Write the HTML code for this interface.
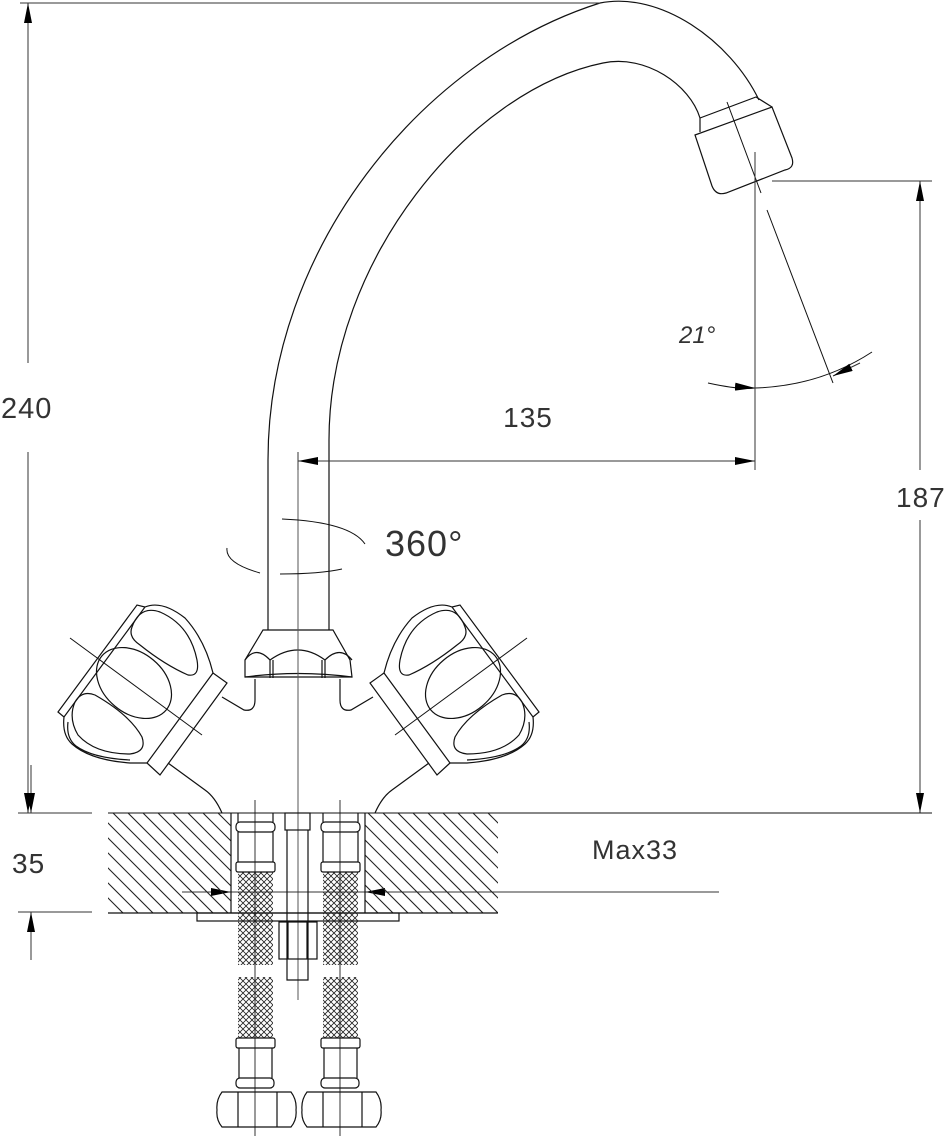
<!DOCTYPE html>
<html><head><meta charset="utf-8"><style>
html,body{margin:0;padding:0;background:#fff;}
svg{display:block;}
text{font-family:"Liberation Sans",sans-serif;fill:#333;font-weight:normal;}
</style></head><body>
<svg width="952" height="1136" viewBox="0 0 952 1136" xmlns="http://www.w3.org/2000/svg">
<defs>
<clipPath id="cb"><rect x="108" y="813" width="123" height="100"/><rect x="365" y="813" width="133" height="100"/></clipPath>
<pattern id="braid" width="6" height="6" patternUnits="userSpaceOnUse">
<path d="M0,0 L6,6 M6,0 L0,6" stroke="#222" stroke-width="0.8"/>
</pattern>
<marker id="ar" viewBox="0 0 20 8" refX="20" refY="4" markerWidth="20" markerHeight="8" markerUnits="userSpaceOnUse" orient="auto">
<path d="M0,0 L20,4 L0,8 Z" fill="#000"/>
</marker>
</defs>
<g fill="none" stroke="#111" stroke-width="1.2">
<!-- spout -->
<path d="M268,615 L268,460 C268,250 420,60 600,3 C660,-9 730,40 759,100"/>
<path d="M329,615 L329,440 C329,260 470,90 603,63 C646,54 690,85 700,118"/>
<path d="M700,118 L700,132 M700,118 L756,97 L772,107"/>
<path d="M695,135 L772,107 L792,158 Q795,168 785,170 L726,193 Q716,196 712,186 Z"/>
<!-- hex nut -->
<path d="M268,615 L268,630 M329,615 L329,630"/>
<path d="M263,630 L333,630 L350,660 L352,677 L245,677 L245,660 Z"/>
<path d="M245,660 Q256,645 270,660 Q298,640 325,660 Q340,645 352,660"/>
<path d="M270,660 L270,678 M273,660 L273,678 M325,660 L325,678 M322,660 L322,678"/>
<path d="M245,677 Q298,670 352,677"/>
<path d="M255,679 L255,700 Q255,712 244,710 L222,697"/>
<path d="M340,679 L340,700 Q340,712 351,710 L373,697"/>
<!-- handles -->
<g id="hl">
<path d="M58,712 L137,605 L145,607 L64,717 Z"/>
<path d="M145,607 Q162,600 185,618 Q205,640 213,673"/>
<path d="M64,717 Q62,735 72,744 Q90,760 130,763 L147,763"/>
<path d="M68,722 Q66,738 76,746 Q92,758 130,760"/>
<path d="M213,673 L227,683 L160,775 L147,763 Z"/>
<path d="M132,627 Q140,605 160,612 Q190,625 197,660 Q200,677 188,675 Q165,665 140,645 Q128,637 132,627 Z"/>
<ellipse cx="134" cy="683" rx="42" ry="30" transform="rotate(40 134 683)"/>
<path d="M75,702 Q82,690 95,695 Q130,715 142,737 Q147,752 130,754 Q95,754 78,735 Q68,718 75,702 Z"/>
<path d="M70,638 L202,735" stroke-width="1"/>
<path d="M168,763 L205,790 Q215,797 222,813"/>
</g>
<use href="#hl" transform="translate(597,0) scale(-1,1)"/>
<!-- centerlines -->
<path d="M298,452 L298,1000" stroke="#555" stroke-width="1"/>
<path d="M255,800 L255,1136 M340,800 L340,1136" stroke="#333" stroke-width="1"/>
<!-- 360 arcs -->
<path d="M282,519 Q350,522 365,544" stroke-width="1"/>
<path d="M227,548 Q225,563 260,573" stroke-width="1"/>
<path d="M280,574 Q320,574 342,569" stroke-width="1"/>
<!-- spout axis & 21 deg -->
<path d="M727,102 L761,193 M767,210 L833,383" stroke-width="1"/>
<path d="M708,383 Q740,390 755,388 Q820,386 872,352" stroke-width="1"/>
<path d="M755,152 L755,470" stroke="#333" stroke-width="1"/>
</g>
<!-- arrows -->
<g stroke="#333" stroke-width="1" fill="none">
<line x1="740" y1="387" x2="755" y2="388" marker-end="url(#ar)"/>
<line x1="860" y1="363" x2="833" y2="376" marker-end="url(#ar)"/>
<line x1="330" y1="461" x2="755" y2="461" marker-end="url(#ar)"/>
<line x1="340" y1="461" x2="298" y2="461" marker-end="url(#ar)"/>
<line x1="298" y1="452" x2="298" y2="470"/>
<line x1="772" y1="181" x2="932" y2="181"/>
<line x1="920" y1="470" x2="920" y2="181" marker-end="url(#ar)"/>
<line x1="920" y1="520" x2="920" y2="813" marker-end="url(#ar)"/>
<line x1="20" y1="3" x2="600" y2="3"/>
<line x1="28" y1="363" x2="28" y2="3" marker-end="url(#ar)"/>
<line x1="28" y1="452" x2="28" y2="813" marker-end="url(#ar)"/>
<line x1="31" y1="765" x2="31" y2="813" marker-end="url(#ar)"/>
<line x1="31" y1="960" x2="31" y2="912" marker-end="url(#ar)"/>
<line x1="18" y1="813" x2="92" y2="813"/>
<line x1="18" y1="912" x2="92" y2="912"/>
<line x1="108" y1="813" x2="932" y2="813" stroke="#111"/>
<line x1="182" y1="892" x2="719" y2="892"/>
<line x1="200" y1="892" x2="231" y2="892" marker-end="url(#ar)"/>
<line x1="400" y1="892" x2="365" y2="892" marker-end="url(#ar)"/>
</g>
<!-- counter hatch -->
<path clip-path="url(#cb)" fill="none" stroke="#222" stroke-width="1.1" d="M8,813 l100,100 M23,813 l100,100 M38,813 l100,100 M53,813 l100,100 M68,813 l100,100 M83,813 l100,100 M98,813 l100,100 M113,813 l100,100 M128,813 l100,100 M143,813 l100,100 M158,813 l100,100 M173,813 l100,100 M188,813 l100,100 M203,813 l100,100 M218,813 l100,100 M263,813 l100,100 M278,813 l100,100 M293,813 l100,100 M308,813 l100,100 M323,813 l100,100 M338,813 l100,100 M353,813 l100,100 M368,813 l100,100 M383,813 l100,100 M398,813 l100,100 M413,813 l100,100 M428,813 l100,100 M443,813 l100,100 M458,813 l100,100 M473,813 l100,100 M488,813 l100,100"/>
<g fill="none" stroke="#111" stroke-width="1.2">
<path d="M231,813 L231,913 M365,813 L365,913 M108,913 L498,913"/>
<rect x="197" y="913" width="202" height="8"/>
<!-- center rod -->
<rect x="285" y="813" width="25" height="17"/>
<path d="M287,830 L287,980 L308,980 L308,830"/>
<rect x="279" y="922" width="38" height="37"/>
<path d="M288,922 L288,959 M307,922 L307,959"/>
</g>
<g id="hose">
<rect x="238" y="872" width="35" height="93" fill="url(#braid)"/>
<rect x="238" y="977" width="35" height="61" fill="url(#braid)"/>
<g fill="none" stroke="#111" stroke-width="1.2">
<path d="M238,813 L238,822 M273,813 L273,822"/>
<rect x="236" y="822" width="39" height="10" rx="4"/>
<path d="M238,832 L238,862 M273,832 L273,862"/>
<rect x="236" y="862" width="39" height="10" rx="2"/>
<rect x="236" y="1038" width="39" height="10" rx="2"/>
<path d="M239,1048 L239,1078 M272,1048 L272,1078"/>
<rect x="236" y="1078" width="38" height="10" rx="4"/>
<path d="M222,1092 L291,1092 Q297,1100 296,1110 Q297,1120 291,1127 L222,1127 Q216,1120 217,1110 Q216,1100 222,1092 Z"/>
<path d="M238,1092 L238,1127 M277,1092 L277,1127"/>
</g>
</g>
<use href="#hose" transform="translate(85,0)"/>
<!-- texts -->
<text x="1" y="418" font-size="29" letter-spacing="1">240</text>
<text x="528" y="427" font-size="28" text-anchor="middle" letter-spacing="1">135</text>
<text x="385" y="556" font-size="36" letter-spacing="1">360°</text>
<text x="679" y="343" font-size="24" font-style="italic">21°</text>
<text x="896" y="507" font-size="28" letter-spacing="1">187</text>
<text x="12" y="873" font-size="28" letter-spacing="1">35</text>
<text x="592" y="859" font-size="27" letter-spacing="1">Max33</text>
</svg>
</body></html>
